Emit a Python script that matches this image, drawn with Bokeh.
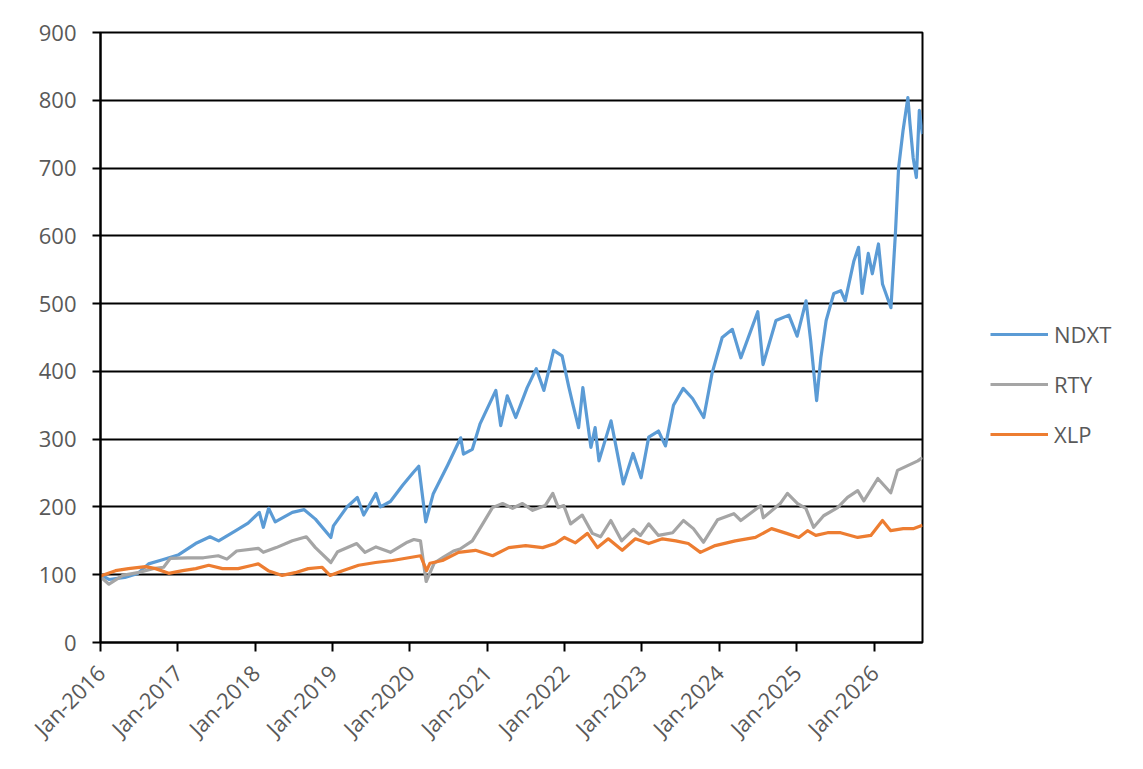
import pandas as pd
from bokeh.plotting import figure
from bokeh.layouts import row
from bokeh.models import (Legend, LegendItem, FixedTicker, DatetimeTickFormatter,
                          Range1d, ColumnDataSource)
from bokeh.embed import file_html
from bokeh.resources import INLINE

# ---------------- data ----------------
ndxt_dates = ["2016-01-01", "2016-02-10", "2016-04-25", "2016-06-25", "2016-08-15", "2016-10-20",
              "2017-01-01", "2017-03-25", "2017-06-01", "2017-07-12", "2017-10-01", "2017-11-28",
              "2018-01-20", "2018-02-08", "2018-03-05", "2018-04-05", "2018-06-25", "2018-08-20",
              "2018-10-12", "2018-12-24", "2019-01-05", "2019-03-10", "2019-04-28", "2019-05-28",
              "2019-07-25", "2019-08-15", "2019-10-01", "2019-11-28", "2020-01-15", "2020-02-12",
              "2020-03-16", "2020-04-20", "2020-06-28", "2020-08-28", "2020-09-10", "2020-10-22",
              "2020-11-28", "2021-02-10", "2021-03-05", "2021-04-05", "2021-05-15", "2021-07-08",
              "2021-08-20", "2021-09-25", "2021-11-10", "2021-12-20", "2022-01-20", "2022-02-10",
              "2022-03-08", "2022-03-28", "2022-05-05", "2022-05-25", "2022-06-12", "2022-08-08",
              "2022-10-05", "2022-11-20", "2022-12-28", "2023-02-02", "2023-03-20", "2023-04-22",
              "2023-05-30", "2023-07-15", "2023-08-28", "2023-10-20", "2023-11-28", "2024-01-15",
              "2024-03-03", "2024-04-12", "2024-07-01", "2024-07-26", "2024-09-25", "2024-11-25",
              "2025-01-03", "2025-02-14", "2025-03-08", "2025-04-05", "2025-04-25", "2025-05-20",
              "2025-06-25", "2025-07-28", "2025-08-18", "2025-09-28", "2025-10-20", "2025-11-06",
              "2025-12-05", "2025-12-24", "2026-01-22", "2026-02-10", "2026-03-22", "2026-04-12",
              "2026-04-27", "2026-05-18", "2026-06-10", "2026-06-20", "2026-07-05", "2026-07-20",
              "2026-08-03", "2026-08-18"]
ndxt_vals = [100, 93, 96, 102, 116, 122,
             129, 146, 156, 150, 165, 176,
             192, 170, 198, 178, 192, 196,
             182, 155, 172, 200, 214, 188,
             220, 200, 208, 232, 250, 260,
             178, 219, 262, 302, 278, 285,
             323, 372, 320, 364, 332, 376,
             404, 372, 431, 423, 378, 350,
             317, 376, 288, 317, 268, 327,
             234, 279, 243, 303, 312, 290,
             350, 375, 360, 332, 397, 450,
             462, 420, 488, 410, 475, 483,
             452, 504, 445, 357, 420, 475,
             515, 519, 504, 563, 583, 515,
             574, 544, 588, 529, 494, 603,
             700, 755, 804, 765, 715, 686,
             785, 750]

rty_dates = ["2016-01-01", "2016-02-10", "2016-04-15", "2016-06-25", "2016-09-05", "2016-10-25",
             "2016-11-25", "2017-02-15", "2017-05-01", "2017-07-10", "2017-08-20", "2017-10-05",
             "2018-01-15", "2018-02-08", "2018-04-10", "2018-06-25", "2018-08-30", "2018-10-12",
             "2018-12-24", "2019-01-25", "2019-04-25", "2019-06-03", "2019-07-25", "2019-10-01",
             "2019-12-20", "2020-01-20", "2020-02-20", "2020-03-18", "2020-04-25", "2020-06-08",
             "2020-07-25", "2020-08-25", "2020-10-22", "2020-12-10", "2021-01-25", "2021-03-14",
             "2021-04-30", "2021-06-16", "2021-08-03", "2021-10-01", "2021-11-06", "2021-12-02",
             "2021-12-28", "2022-01-29", "2022-03-25", "2022-05-12", "2022-06-20", "2022-08-07",
             "2022-09-27", "2022-11-21", "2022-12-25", "2023-02-02", "2023-03-20", "2023-05-26",
             "2023-07-16", "2023-09-01", "2023-10-19", "2023-12-24", "2024-03-10", "2024-04-12",
             "2024-07-15", "2024-07-27", "2024-10-15", "2024-11-18", "2025-01-05", "2025-02-13",
             "2025-03-22", "2025-05-08", "2025-07-13", "2025-08-29", "2025-10-16", "2025-11-14",
             "2026-01-19", "2026-03-21", "2026-04-22", "2026-06-09", "2026-07-27", "2026-08-18"]
rty_vals = [97, 86, 99, 103, 109, 111,
            124, 125, 125, 128, 123, 135,
            139, 133, 140, 150, 156, 140,
            118, 134, 146, 133, 141, 133,
            148, 152, 150, 90, 117, 126,
            135, 138, 150, 175, 199, 205,
            198, 205, 195, 202, 220, 199,
            202, 175, 188, 161, 156, 180,
            150, 167, 158, 175, 158, 162,
            180, 168, 148, 181, 190, 180,
            202, 184, 205, 220, 205, 198,
            170, 187, 199, 214, 224, 209,
            242, 221, 254, 261, 268, 273]

xlp_dates = ["2016-01-01", "2016-03-12", "2016-05-12", "2016-08-01", "2016-09-17", "2016-11-18",
             "2017-01-23", "2017-03-26", "2017-05-26", "2017-07-30", "2017-10-12", "2017-12-19",
             "2018-01-15", "2018-03-03", "2018-05-08", "2018-07-08", "2018-09-08", "2018-11-13",
             "2018-12-20", "2019-02-17", "2019-05-04", "2019-07-23", "2019-10-11", "2020-02-20",
             "2020-03-20", "2020-04-05", "2020-06-03", "2020-08-18", "2020-11-06", "2021-01-26",
             "2021-04-12", "2021-07-01", "2021-09-19", "2021-11-18", "2021-12-31", "2022-02-21",
             "2022-04-19", "2022-06-05", "2022-07-26", "2022-09-30", "2022-12-01", "2023-02-02",
             "2023-04-08", "2023-06-10", "2023-08-08", "2023-10-04", "2023-12-13", "2024-03-17",
             "2024-06-20", "2024-09-04", "2024-11-14", "2025-01-11", "2025-02-21", "2025-04-01",
             "2025-05-27", "2025-07-27", "2025-10-16", "2025-12-17", "2026-02-10", "2026-03-21",
             "2026-05-19", "2026-07-05", "2026-08-18"]
xlp_vals = [98, 106, 109, 112, 109, 102,
            106, 109, 114, 109, 109, 114,
            116, 106, 99, 103, 109, 111,
            99, 106, 114, 118, 121, 128,
            106, 117, 121, 133, 136, 128,
            140, 143, 140, 146, 155, 147,
            161, 140, 153, 136, 153, 146,
            153, 150, 146, 133, 143, 150,
            155, 168, 161, 155, 165, 158,
            162, 162, 155, 158, 180, 165,
            168, 168, 173]

series_names = ["NDXT", "RTY", "XLP"]
series_colors = ["#5B9BD5", "#A5A5A5", "#ED7D31"]
tick_years = list(range(2016, 2027))
y_ticks = list(range(0, 1000, 100))
x_start = "2016-01-01"
x_end = "2026-08-18"

# ---------------- figure ----------------
FONT = "Open Sans"
LABEL_COLOR = "#595959"

p = figure(width=926, height=760, x_axis_type="datetime",
           output_backend="svg", toolbar_location=None,
           x_range=Range1d(pd.Timestamp(x_start), pd.Timestamp(x_end)),
           y_range=Range1d(0, 900),
           min_border_left=100, min_border_right=4,
           min_border_top=32, min_border_bottom=118)

p.background_fill_color = "white"
p.border_fill_color = "white"
p.outline_line_color = "black"
p.outline_line_width = 2

p.xgrid.visible = False
p.ygrid.grid_line_color = "black"
p.ygrid.grid_line_width = 1.8
p.ygrid.ticker = FixedTicker(ticks=y_ticks)

p.yaxis.ticker = FixedTicker(ticks=y_ticks)
p.xaxis.ticker = FixedTicker(ticks=[pd.Timestamp(f"{y}-01-01").value / 1e6 for y in tick_years])
p.xaxis.formatter = DatetimeTickFormatter(years="%b-%Y", months="%b-%Y", days="%b-%Y",
                                          hours="%b-%Y", minutes="%b-%Y")

for ax in (p.xaxis, p.yaxis):
    ax.axis_line_color = "black"
    ax.axis_line_width = 2
    ax.major_tick_line_color = "black"
    ax.major_tick_line_width = 2
    ax.major_tick_in = 0
    ax.minor_tick_line_color = None
    ax.major_label_text_font = FONT
    ax.major_label_text_font_size = "22px"
    ax.major_label_text_color = LABEL_COLOR

p.yaxis.major_tick_out = 8
p.yaxis.major_label_standoff = 16
p.xaxis.major_tick_out = 9
p.xaxis.major_label_standoff = 17
p.xaxis.major_label_orientation = 0.785398

for name, d, v, c in zip(series_names, [ndxt_dates, rty_dates, xlp_dates],
                         [ndxt_vals, rty_vals, xlp_vals], series_colors):
    src = ColumnDataSource(dict(x=pd.to_datetime(d), y=v))
    p.line("x", "y", source=src, line_color=c, line_width=3.2, line_join="round")

# ---------------- legend panel (separate, axis-less figure) ----------------
lg = figure(width=210, height=750, output_backend="svg", toolbar_location=None,
            x_range=Range1d(0, 1), y_range=Range1d(0, 1),
            min_border_left=0, min_border_right=0, min_border_top=0, min_border_bottom=0)
lg.axis.visible = False
lg.grid.visible = False
lg.outline_line_color = None
lg.background_fill_color = "white"
lg.border_fill_color = "white"

nan = float("nan")
items = []
for name, c in zip(series_names, series_colors):
    # legend-only renderer: a NaN point draws nothing in the plot area
    r = lg.line(x=[nan], y=[nan], line_color=c, line_width=3.2)
    items.append(LegendItem(label=name, renderers=[r]))

legend = Legend(items=items, location=(64, 183), orientation="vertical",
                glyph_width=58, glyph_height=26, label_height=26, spacing=20,
                label_standoff=6, padding=0, margin=0,
                border_line_color=None, background_fill_alpha=0,
                label_text_font=FONT, label_text_font_size="22px",
                label_text_color=LABEL_COLOR)
lg.add_layout(legend)

layout = row(p, lg)
open("out.html", "w").write(file_html(layout, INLINE))
